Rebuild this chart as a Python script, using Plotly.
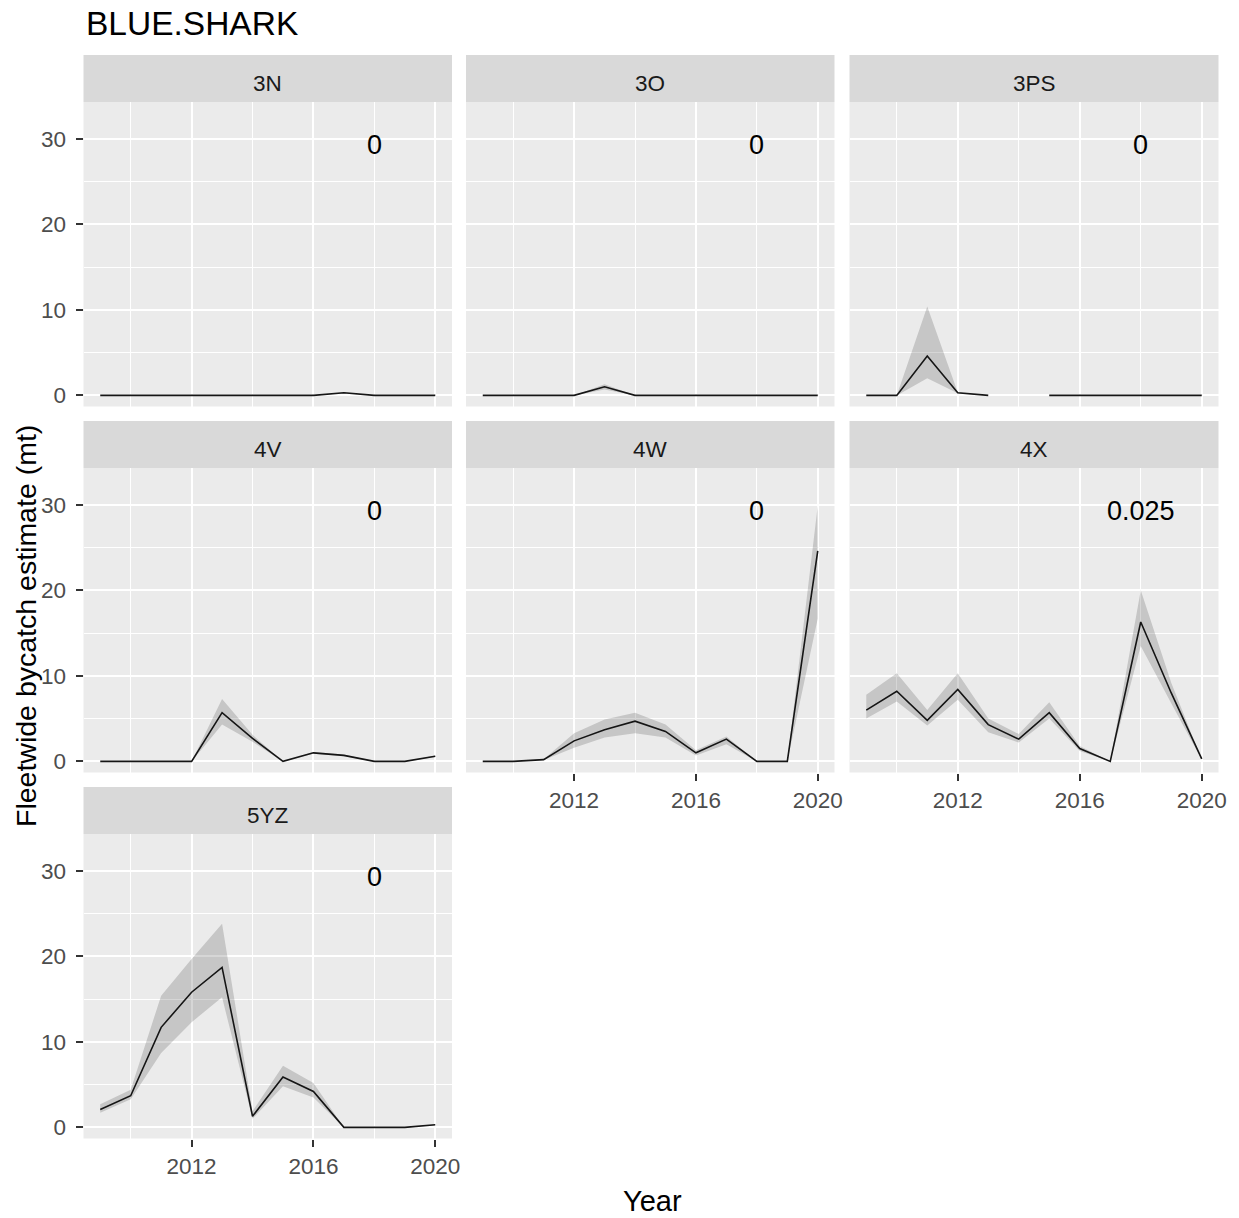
import plotly.graph_objects as go

# ---------------- data ----------------
years = [2009, 2010, 2011, 2012, 2013, 2014, 2015, 2016, 2017, 2018, 2019, 2020]
areas = ["3N", "3O", "3PS", "4V", "4W", "4X", "5YZ"]

est_3N = [0, 0, 0, 0, 0, 0, 0, 0, 0.3, 0, 0, 0]
lo_3N = [0, 0, 0, 0, 0, 0, 0, 0, 0.25, 0, 0, 0]
hi_3N = [0, 0, 0, 0, 0, 0, 0, 0, 0.35, 0, 0, 0]

est_3O = [0, 0, 0, 0, 1.0, 0, 0, 0, 0, 0, 0, 0]
lo_3O = [0, 0, 0, 0, 0.7, 0, 0, 0, 0, 0, 0, 0]
hi_3O = [0, 0, 0, 0, 1.3, 0, 0, 0, 0, 0, 0, 0]

est_3PS = [0, 0, 4.6, 0.3, 0, None, 0, 0, 0, 0, 0, 0]
lo_3PS = [0, 0, 2.0, 0.25, 0, None, 0, 0, 0, 0, 0, 0]
hi_3PS = [0, 0, 10.4, 0.35, 0, None, 0, 0, 0, 0, 0, 0]

est_4V = [0, 0, 0, 0, 5.7, 2.7, 0, 1.0, 0.7, 0, 0, 0.6]
lo_4V = [0, 0, 0, 0, 4.3, 2.3, 0, 0.9, 0.6, 0, 0, 0.5]
hi_4V = [0, 0, 0, 0, 7.3, 3.1, 0, 1.1, 0.8, 0, 0, 0.7]

est_4W = [0, 0, 0.2, 2.4, 3.7, 4.7, 3.5, 1.0, 2.6, 0, 0, 24.6]
lo_4W = [0, 0, 0.15, 1.6, 2.8, 3.3, 2.8, 0.7, 2.0, 0, 0, 16.7]
hi_4W = [0, 0, 0.25, 3.3, 4.9, 5.7, 4.3, 1.3, 2.9, 0, 0, 29.9]

est_4X = [6.0, 8.2, 4.8, 8.4, 4.3, 2.6, 5.7, 1.5, 0, 16.3, 8.0, 0.3]
lo_4X = [5.0, 7.0, 4.2, 7.2, 3.4, 2.2, 5.0, 1.2, 0, 13.5, 6.8, 0.2]
hi_4X = [7.8, 10.3, 6.0, 10.3, 5.0, 3.2, 6.9, 1.8, 0, 20.0, 9.2, 0.4]

est_5YZ = [2.1, 3.7, 11.7, 15.8, 18.7, 1.3, 5.9, 4.2, 0, 0, 0, 0.3]
lo_5YZ = [1.7, 3.3, 8.7, 12.3, 15.2, 1.0, 4.8, 3.5, 0, 0, 0, 0.25]
hi_5YZ = [2.7, 4.4, 15.4, 19.7, 23.8, 1.9, 7.2, 5.2, 0, 0, 0, 0.35]

labels = ["0", "0", "0", "0", "0", "0.025", "0"]
label_x = 2018
label_y = 30

x_ticks = [2012, 2016, 2020]
y_ticks = [0, 10, 20, 30]

series = {
    "3N": (est_3N, lo_3N, hi_3N),
    "3O": (est_3O, lo_3O, hi_3O),
    "3PS": (est_3PS, lo_3PS, hi_3PS),
    "4V": (est_4V, lo_4V, hi_4V),
    "4W": (est_4W, lo_4W, hi_4W),
    "4X": (est_4X, lo_4X, hi_4X),
    "5YZ": (est_5YZ, lo_5YZ, hi_5YZ),
}

# ---------------- layout geometry (pixels) ----------------
W, H = 1239, 1218
FONT = "Liberation Sans, Arial, sans-serif"
col_px = [(83.5, 452), (466, 834.5), (849.5, 1218.5)]
row_px = [(55, 102, 406.5), (421, 468, 772.5), (787, 834, 1138.5)]  # strip top, panel top, panel bottom

fig = go.Figure()


def segments(xs, ys_lo, ys_hi):
    segs, cur = [], []
    for x, lo, hi in zip(xs, ys_lo, ys_hi):
        if lo is None or hi is None:
            if cur:
                segs.append(cur)
            cur = []
        else:
            cur.append((x, lo, hi))
    if cur:
        segs.append(cur)
    return segs


annotations = []
shapes = []
for i, area in enumerate(areas):
    r, c = divmod(i, 3)
    ax = "" if i == 0 else str(i + 1)
    xref, yref = "x" + ax, "y" + ax
    est, lo, hi = series[area]

    for seg in segments(years, lo, hi):
        xs = [s[0] for s in seg]
        los = [s[1] for s in seg]
        his = [s[2] for s in seg]
        fig.add_trace(go.Scatter(
            x=xs + xs[::-1], y=his + los[::-1], fill="toself",
            fillcolor="rgba(51,51,51,0.2)", line=dict(width=0),
            mode="lines", hoverinfo="skip", showlegend=False,
            xaxis=xref, yaxis=yref))
    fig.add_trace(go.Scatter(
        x=years, y=est, mode="lines", connectgaps=False,
        line=dict(color="#151515", width=1.6), showlegend=False,
        xaxis=xref, yaxis=yref))

    x0, x1 = col_px[c]
    st, pt, pb = row_px[r]
    bottom = (i + 3) >= len(areas)
    left = c == 0

    fig.layout["xaxis" + ax] = dict(
        domain=[x0 / W, x1 / W], anchor=yref, range=[2008.45, 2020.55],
        tickvals=x_ticks, showticklabels=bottom, automargin=False,
        ticks="outside" if bottom else "", ticklen=7, tickwidth=1.5, tickcolor="#333333",
        tickfont=dict(family=FONT, size=22.5, color="#4D4D4D"),
        showgrid=True, gridcolor="white", gridwidth=2, zeroline=False, showline=False,
        minor=dict(tickvals=[2010, 2014, 2018], showgrid=True, gridcolor="white", gridwidth=1.1, ticks=""),
    )
    fig.layout["yaxis" + ax] = dict(
        domain=[1 - pb / H, 1 - pt / H], anchor=xref, range=[-1.3, 34.3],
        tickvals=y_ticks, showticklabels=left, automargin=False,
        ticks="outside" if left else "", ticklen=7, tickwidth=1.5, tickcolor="#333333",
        ticklabelstandoff=5,
        tickfont=dict(family=FONT, size=22.5, color="#4D4D4D"),
        showgrid=True, gridcolor="white", gridwidth=2, zeroline=False, showline=False,
        minor=dict(tickvals=[5, 15, 25], showgrid=True, gridcolor="white", gridwidth=1.1, ticks=""),
    )

    # strip
    shapes.append(dict(type="rect", xref="paper", yref="paper",
                       x0=x0 / W, x1=x1 / W, y0=1 - pt / H, y1=1 - st / H,
                       fillcolor="#D9D9D9", line=dict(width=0), layer="below"))
    annotations.append(dict(text=area, xref="paper", yref="paper",
                            x=(x0 + x1) / 2 / W, y=1 - (st + pt) / 2 / H, yshift=-5,
                            xanchor="center", yanchor="middle", showarrow=False,
                            font=dict(family=FONT, size=22.5, color="#1A1A1A")))
    # estimate label
    annotations.append(dict(text=labels[i], xref=xref, yref=yref, x=label_x, y=label_y,
                            xanchor="center", yanchor="middle", showarrow=False, yshift=-6,
                            font=dict(family=FONT, size=27, color="black")))

annotations.append(dict(text="BLUE.SHARK", xref="paper", yref="paper", x=84 / W, y=1 - 23 / H,
                        xanchor="left", yanchor="middle", showarrow=False,
                        font=dict(family=FONT, size=33.5, color="black")))
annotations.append(dict(text="Fleetwide bycatch estimate (mt)", xref="paper", yref="paper",
                        x=26 / W, y=1 - 626 / H, textangle=-90, xanchor="center", yanchor="middle",
                        showarrow=False, font=dict(family=FONT, size=28.5, color="black")))
annotations.append(dict(text="Year", xref="paper", yref="paper", x=652 / W, y=1 - 1201 / H,
                        xanchor="center", yanchor="middle", showarrow=False,
                        font=dict(family=FONT, size=29, color="black")))

fig.update_layout(
    width=W, height=H, margin=dict(l=0, r=0, t=0, b=0, pad=0, autoexpand=False),
    paper_bgcolor="white", plot_bgcolor="#EBEBEB",
    annotations=annotations, shapes=shapes, showlegend=False,
    font=dict(family=FONT),
)

fig.write_html("out.html",
               post_script="document.body.style.margin='0';document.body.style.overflow='hidden';")
